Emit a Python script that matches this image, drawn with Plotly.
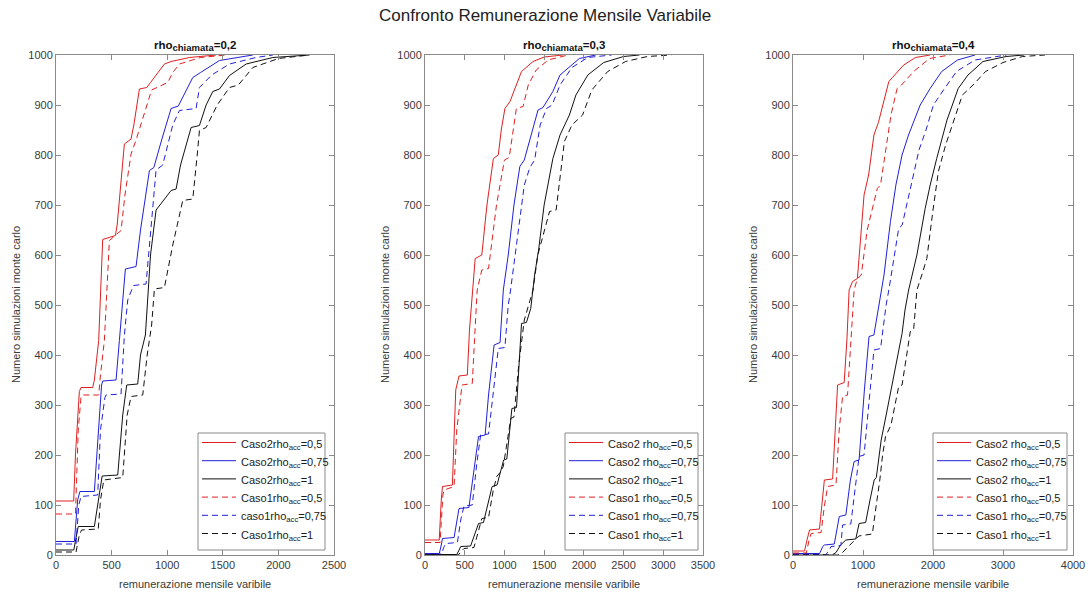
import plotly.graph_objects as go

# ---------------- data ----------------
# Panel 1: rho_chiamata = 0,2
p1_c2_05_x = [0, 159, 175, 210, 225, 330, 345, 384, 420, 534, 550, 615, 675, 700, 750, 816, 850, 975, 1035, 1200, 1440]
p1_c2_05_y = [108, 108, 200, 327, 335, 335, 350, 429, 631, 639, 660, 822, 832, 860, 932, 935, 945, 982, 987, 995, 1000]
p1_c2_075_x = [0, 165, 195, 215, 345, 375, 410, 420, 540, 570, 624, 720, 760, 840, 880, 950, 1035, 1100, 1150, 1230, 1300, 1470, 1770]
p1_c2_075_y = [27, 27, 110, 127, 127, 223, 340, 348, 350, 429, 572, 577, 650, 769, 775, 830, 893, 898, 920, 955, 965, 989, 1000]
p1_c2_1_x = [0, 160, 185, 200, 345, 360, 400, 415, 555, 600, 636, 735, 760, 804, 850, 900, 1035, 1080, 1120, 1215, 1290, 1350, 1410, 1470, 1560, 1710, 1950, 2280]
p1_c2_1_y = [10, 10, 40, 57, 57, 80, 140, 158, 160, 280, 340, 342, 400, 440, 600, 690, 729, 732, 780, 855, 859, 900, 927, 932, 959, 982, 995, 1000]
p1_c1_05_x = [0, 175, 200, 225, 240, 384, 400, 435, 480, 585, 620, 675, 720, 790, 860, 1005, 1050, 1110, 1300, 1530]
p1_c1_05_y = [82, 82, 250, 317, 320, 320, 360, 429, 629, 649, 720, 802, 830, 880, 930, 945, 965, 982, 995, 1000]
p1_c1_075_x = [0, 180, 205, 225, 375, 400, 440, 450, 585, 615, 645, 696, 810, 850, 900, 960, 1050, 1110, 1260, 1290, 1400, 1560, 1800, 1950]
p1_c1_075_y = [22, 22, 100, 117, 120, 250, 315, 320, 322, 440, 510, 539, 542, 650, 770, 780, 860, 889, 893, 935, 960, 982, 995, 1000]
p1_c1_1_x = [0, 180, 210, 230, 380, 400, 430, 600, 640, 675, 780, 820, 860, 885, 975, 1050, 1140, 1230, 1270, 1290, 1350, 1450, 1560, 1640, 1770, 2000, 2280]
p1_c1_1_y = [6, 6, 40, 50, 52, 110, 150, 155, 280, 317, 320, 400, 460, 532, 535, 620, 709, 712, 800, 849, 855, 900, 935, 940, 975, 993, 1000]

# Panel 2: rho_chiamata = 0,3
p2_c2_05_x = [0, 179, 205, 220, 345, 365, 387, 428, 533, 560, 595, 632, 715, 780, 861, 923, 960, 1006, 1070, 1150, 1215, 1360, 1500, 1735]
p2_c2_05_y = [30, 30, 110, 137, 140, 250, 330, 358, 360, 450, 530, 593, 600, 700, 793, 800, 850, 893, 907, 940, 967, 987, 996, 1000]
p2_c2_075_x = [0, 180, 205, 220, 366, 400, 428, 553, 600, 674, 757, 800, 870, 945, 986, 1048, 1120, 1194, 1250, 1350, 1423, 1485, 1610, 1700, 1943, 2150]
p2_c2_075_y = [3, 3, 20, 33, 35, 70, 93, 95, 150, 237, 240, 320, 420, 425, 530, 600, 700, 777, 790, 850, 890, 895, 927, 960, 993, 1000]
p2_c2_1_x = [0, 400, 430, 449, 574, 620, 674, 736, 800, 845, 907, 960, 990, 1030, 1070, 1094, 1152, 1190, 1215, 1277, 1331, 1380, 1430, 1500, 1610, 1700, 1818, 1900, 2050, 2250, 2500, 2700]
p2_c2_1_y = [1, 1, 10, 17, 18, 40, 63, 65, 110, 137, 140, 170, 190, 192, 250, 293, 295, 400, 463, 465, 493, 560, 610, 700, 793, 840, 880, 920, 960, 985, 997, 1000]
p2_c1_05_x = [0, 190, 225, 241, 366, 400, 466, 595, 630, 657, 700, 715, 800, 900, 1000, 1060, 1120, 1150, 1235, 1300, 1400, 1550, 1800]
p2_c1_05_y = [25, 25, 120, 130, 137, 250, 340, 343, 450, 530, 560, 570, 573, 700, 790, 795, 860, 893, 897, 940, 970, 990, 1000]
p2_c1_075_x = [0, 210, 235, 262, 408, 450, 491, 595, 650, 700, 800, 860, 923, 1006, 1048, 1069, 1150, 1250, 1320, 1380, 1450, 1530, 1600, 1700, 1850, 2050, 2350]
p2_c1_075_y = [2, 2, 15, 23, 25, 70, 98, 100, 180, 240, 242, 330, 413, 415, 500, 520, 620, 740, 775, 790, 860, 893, 900, 940, 975, 995, 1000]
p2_c1_1_x = [0, 420, 460, 491, 616, 680, 716, 800, 860, 903, 945, 986, 1040, 1080, 1120, 1180, 1250, 1310, 1360, 1420, 1500, 1568, 1651, 1700, 1755, 1850, 1984, 2100, 2300, 2525, 2800, 3100]
p2_c1_1_y = [0, 0, 8, 13, 15, 50, 73, 75, 130, 157, 165, 177, 230, 273, 276, 380, 470, 505, 530, 600, 650, 687, 690, 760, 827, 860, 880, 930, 967, 987, 997, 1000]

# Panel 3: rho_chiamata = 0,4
p3_c2_05_x = [0, 165, 200, 236, 378, 420, 448, 566, 600, 637, 731, 770, 802, 850, 920, 960, 1015, 1080, 1156, 1220, 1300, 1369, 1420, 1581, 1750, 1959]
p3_c2_05_y = [8, 8, 30, 50, 52, 110, 150, 152, 250, 340, 345, 430, 530, 547, 553, 620, 720, 760, 840, 865, 910, 947, 955, 980, 995, 1000]
p3_c2_075_x = [0, 380, 425, 448, 590, 640, 661, 755, 820, 873, 944, 1020, 1086, 1156, 1230, 1300, 1392, 1470, 1558, 1650, 1817, 1959, 2124, 2350, 2600]
p3_c2_075_y = [3, 3, 17, 20, 22, 60, 77, 80, 150, 187, 190, 330, 437, 440, 500, 560, 667, 740, 800, 840, 900, 933, 967, 990, 1000]
p3_c2_1_x = [0, 560, 614, 680, 755, 897, 944, 1038, 1100, 1160, 1190, 1260, 1345, 1400, 1470, 1558, 1600, 1652, 1770, 1888, 1960, 2053, 2200, 2360, 2500, 2714, 3044, 3300]
p3_c2_1_y = [0, 0, 5, 20, 30, 32, 63, 65, 110, 150, 155, 230, 290, 330, 380, 443, 490, 530, 600, 693, 740, 793, 870, 933, 960, 987, 997, 1000]
p3_c1_05_x = [0, 190, 230, 260, 401, 450, 496, 614, 660, 708, 779, 830, 873, 920, 975, 1060, 1204, 1250, 1330, 1400, 1487, 1550, 1723, 1950, 2242]
p3_c1_05_y = [4, 4, 30, 43, 45, 100, 137, 140, 250, 317, 320, 430, 530, 553, 560, 650, 733, 740, 820, 880, 933, 940, 967, 993, 1000]
p3_c1_075_x = [0, 470, 520, 543, 684, 700, 708, 826, 900, 944, 1015, 1100, 1156, 1251, 1330, 1369, 1450, 1510, 1560, 1676, 1800, 1900, 2006, 2150, 2336, 2600, 3050]
p3_c1_075_y = [1, 1, 10, 17, 19, 40, 60, 62, 150, 197, 200, 330, 410, 413, 500, 530, 600, 653, 660, 733, 810, 850, 900, 930, 967, 990, 1000]
p3_c1_1_x = [0, 640, 708, 780, 850, 940, 1038, 1133, 1180, 1210, 1240, 1280, 1322, 1400, 1470, 1510, 1558, 1620, 1676, 1723, 1770, 1840, 1912, 2000, 2077, 2180, 2290, 2420, 2572, 2750, 3000, 3280, 3600]
p3_c1_1_y = [0, 0, 5, 15, 25, 38, 40, 42, 90, 117, 150, 200, 237, 260, 310, 337, 340, 400, 447, 450, 530, 560, 593, 690, 767, 820, 867, 920, 940, 967, 985, 997, 1000]

panel_titles = ["rho<sub><span style='font-size:9.5px'>chiamata</span></sub>=0,2",
                "rho<sub><span style='font-size:9.5px'>chiamata</span></sub>=0,3",
                "rho<sub><span style='font-size:9.5px'>chiamata</span></sub>=0,4"]
x_ranges = [[0, 2500], [0, 3500], [0, 4000]]
x_dticks = [500, 500, 1000]
y_range = [0, 1000]
suptitle = "Confronto Remunerazione Mensile Variabile"
x_title = "remunerazione mensile varibile"
y_title = "Numero simulazioni monte carlo"

legend_names = [
    ["Caso2rho<sub>acc</sub>=0,5", "Caso2rho<sub>acc</sub>=0,75", "Caso2rho<sub>acc</sub>=1",
     "Caso1rho<sub>acc</sub>=0,5", "caso1rho<sub>acc</sub>=0,75", "Caso1rho<sub>acc</sub>=1"],
    ["Caso2 rho<sub>acc</sub>=0,5", "Caso2 rho<sub>acc</sub>=0,75", "Caso2 rho<sub>acc</sub>=1",
     "Caso1 rho<sub>acc</sub>=0,5", "Caso1 rho<sub>acc</sub>=0,75", "Caso1 rho<sub>acc</sub>=1"],
    ["Caso2 rho<sub>acc</sub>=0,5", "Caso2 rho<sub>acc</sub>=0,75", "Caso2 rho<sub>acc</sub>=1",
     "Caso1 rho<sub>acc</sub>=0,5", "Caso1 rho<sub>acc</sub>=0,75", "Caso1 rho<sub>acc</sub>=1"],
]

panels = [
    [(p1_c2_05_x, p1_c2_05_y), (p1_c2_075_x, p1_c2_075_y), (p1_c2_1_x, p1_c2_1_y),
     (p1_c1_05_x, p1_c1_05_y), (p1_c1_075_x, p1_c1_075_y), (p1_c1_1_x, p1_c1_1_y)],
    [(p2_c2_05_x, p2_c2_05_y), (p2_c2_075_x, p2_c2_075_y), (p2_c2_1_x, p2_c2_1_y),
     (p2_c1_05_x, p2_c1_05_y), (p2_c1_075_x, p2_c1_075_y), (p2_c1_1_x, p2_c1_1_y)],
    [(p3_c2_05_x, p3_c2_05_y), (p3_c2_075_x, p3_c2_075_y), (p3_c2_1_x, p3_c2_1_y),
     (p3_c1_05_x, p3_c1_05_y), (p3_c1_075_x, p3_c1_075_y), (p3_c1_1_x, p3_c1_1_y)],
]

# ---------------- style ----------------
W, H = 1090, 594
colors = ["#e02020", "#2020d8", "#111111", "#e02020", "#2020d8", "#111111"]
dashes = ["solid", "solid", "solid", "6px,4px", "6px,4px", "6px,4px"]
FONT = "Liberation Sans, Arial, sans-serif"
AX_COL = "#8a8a8a"
TXT_COL = "#3a3a3a"

# pixel boxes of the three axes (left, right); top/bottom shared
x_px = [(56, 334), (425, 703), (793, 1073)]
y_top, y_bot = 55, 555
# legend boxes: left, top, right, bottom
legend_box = [(198, 433, 325, 550), (565, 433, 698, 550), (933, 433, 1067, 550)]


def px(xv):
    return xv / W


def py(yv):
    return 1 - yv / H


fig = go.Figure()

for i, curves in enumerate(panels):
    xa = "x" if i == 0 else f"x{i+1}"
    ya = "y" if i == 0 else f"y{i+1}"
    for j, (xs, ys) in enumerate(curves):
        fig.add_trace(go.Scatter(
            x=xs, y=ys, mode="lines", name=legend_names[i][j],
            line=dict(color=colors[j], width=1, dash=dashes[j]),
            xaxis=xa, yaxis=ya, showlegend=False, hoverinfo="x+y+name",
        ))

layout = dict(
    width=W, height=H, margin=dict(l=0, r=0, t=0, b=0),
    paper_bgcolor="white", plot_bgcolor="white",
    font=dict(family=FONT, size=11, color=TXT_COL),
    showlegend=False,
)

ydom = [py(y_bot), py(y_top)]
annotations = []
shapes = []
for i in range(3):
    l, r = x_px[i]
    xk = "xaxis" if i == 0 else f"xaxis{i+1}"
    yk = "yaxis" if i == 0 else f"yaxis{i+1}"
    ya = "y" if i == 0 else f"y{i+1}"
    xa = "x" if i == 0 else f"x{i+1}"
    layout[xk] = dict(
        domain=[px(l), px(r)], range=x_ranges[i], dtick=x_dticks[i], tick0=0,
        anchor=ya, showline=True, linecolor=AX_COL, linewidth=1, mirror="ticks",
        ticks="inside", ticklen=5, tickcolor=AX_COL, showgrid=False, zeroline=False,
        automargin=False, tickfont=dict(size=11, color=TXT_COL),
    )
    layout[yk] = dict(
        domain=ydom, range=y_range, dtick=100, tick0=0,
        anchor=xa, showline=True, linecolor=AX_COL, linewidth=1, mirror="ticks",
        ticks="inside", ticklen=5, tickcolor=AX_COL, showgrid=False, zeroline=False,
        automargin=False, tickfont=dict(size=11, color=TXT_COL),
    )
    # panel title
    annotations.append(dict(
        text="<b>" + panel_titles[i] + "</b>", x=px((l + r) / 2), y=py(y_top),
        xref="paper", yref="paper", xanchor="center", yanchor="bottom",
        showarrow=False, yshift=0, font=dict(size=11.5, color="#111111", family=FONT),
    ))
    # axis titles
    annotations.append(dict(
        text=x_title, x=px((l + r) / 2), y=py(584), xref="paper", yref="paper",
        xanchor="center", yanchor="middle", showarrow=False,
        font=dict(size=11, color=TXT_COL, family=FONT),
    ))
    annotations.append(dict(
        text=y_title, x=px(l - 40), y=py((y_top + y_bot) / 2), xref="paper", yref="paper",
        xanchor="center", yanchor="middle", showarrow=False, textangle=-90,
        font=dict(size=11, color=TXT_COL, family=FONT),
    ))
    # legend (drawn by hand so that each panel has its own box)
    bx0, by0, bx1, by1 = legend_box[i]
    shapes.append(dict(type="rect", xref="paper", yref="paper",
                       x0=px(bx0), x1=px(bx1), y0=py(by1), y1=py(by0),
                       line=dict(color=AX_COL, width=1), fillcolor="white", layer="above"))
    for j in range(6):
        cy = by0 + 9.5 + j * 18.2
        shapes.append(dict(type="line", xref="paper", yref="paper",
                           x0=px(bx0 + 4), x1=px(bx0 + 38), y0=py(cy), y1=py(cy),
                           line=dict(color=colors[j], width=1, dash=dashes[j]), layer="above"))
        annotations.append(dict(
            text=legend_names[i][j], x=px(bx0 + 41), y=py(cy), xref="paper", yref="paper",
            xanchor="left", yanchor="middle", showarrow=False, yshift=-2,
            font=dict(size=11, color="#1a1a1a", family=FONT),
        ))

annotations.append(dict(
    text=suptitle, x=px(545), y=py(15), xref="paper", yref="paper",
    xanchor="center", yanchor="middle", showarrow=False,
    font=dict(size=17, color="#222222", family=FONT),
))
layout["annotations"] = annotations
layout["shapes"] = shapes
fig.update_layout(**layout)

fig.write_html("out.html", config={"displayModeBar": False},
               post_script="document.body.style.margin='0px';")
